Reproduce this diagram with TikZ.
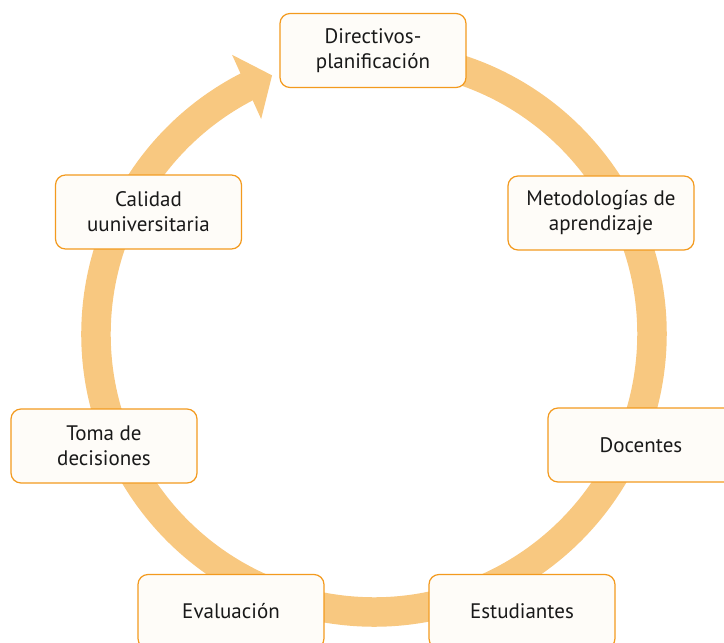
\documentclass[tikz,border=0pt]{standalone}
\usepackage{fontspec}
\setmainfont{PT Sans}
\usepackage{xcolor}
\usepackage{tikz}
\usetikzlibrary{arrows.meta,bending}

\definecolor{ringorange}{HTML}{F8C880}
\definecolor{boxline}{HTML}{F39A1E}
\definecolor{boxfill}{HTML}{FEFCF8}

\begin{document}
\begin{tikzpicture}
    [x=1pt,y=1pt,
    font=\fontsize{21}{25}\selectfont,
    box/.style={shape=rectangle,rounded corners=10pt,draw=boxline,fill=boxfill,line width=1.2pt,
      minimum width=186pt,minimum height=74pt,align=center,text=black!90},
    ring/.style={-{Triangle[length=28pt,width=69pt,flex]},line width=29.5pt,draw=ringorange}]

    \useasboundingbox (-374,-309) rectangle (350,334);

    \coordinate (c) at (0,0);
    \draw [ring] ([shift={(85:278)}]c) arc [start angle=85,end angle=-248.5,radius=278];

    \node (dir) [box] at (-1,283.5) {Directivos-\\planificación};
    \node (met) [box] at (227,121) {Metodologías de\\aprendizaje};
    \node (doc) [box] at (267,-111) {Docentes};
    \node (est) [box] at (148,-277.5) {Estudiantes};
    \node (eva) [box] at (-143,-277.5) {Evaluación};
    \node (tom) [box] at (-270,-112) {Toma de\\decisiones};
    \node (cal) [box] at (-225.5,122) {Calidad\\uuniversitaria};

\end{tikzpicture}
\end{document}
